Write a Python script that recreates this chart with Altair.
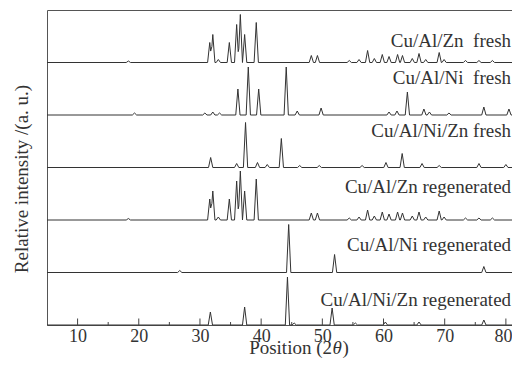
import altair as alt
import pandas as pd

# ---------------- data ----------------
names = [
    "Cu/Al/Zn\u00a0 fresh",
    "Cu/Al/Ni\u00a0 fresh",
    "Cu/Al/Ni/Zn fresh",
    "Cu/Al/Zn regenerated",
    "Cu/Al/Ni regenerated",
    "Cu/Al/Ni/Zn regenerated",
]
# baseline of each trace (intensity units, one panel = 52.5)
offsets = [262.5, 210.0, 157.5, 105.0, 52.5, 0.0]
# label centre height above the trace baseline
label_rise = [22, 37, 37, 33, 28, 25]

pos_znf = [18.3, 31.6, 32.1, 33.0, 34.8, 36.0, 36.6, 37.3, 39.2, 48.2, 49.2, 54.4,
           56.0, 57.4, 58.5, 59.8, 60.9, 62.3, 63.1, 64.7, 65.8, 66.9, 69.1, 69.9,
           73.4, 75.6, 77.8]
h_znf = [1.5, 20, 28, 3, 20, 38, 48, 28, 40, 7, 7, 2,
         3, 12, 4, 8, 6, 8, 7, 4, 9, 3, 10, 3,
         2, 2, 2]

pos_nif = [19.3, 30.8, 32.1, 33.2, 36.2, 37.9, 39.6, 44.1, 45.9, 49.8, 60.9, 62.2,
           63.9, 66.6, 67.5, 70.7, 76.4, 80.5]
h_nif = [2, 2, 3, 2, 26, 48, 26, 48, 4, 7, 3, 4,
         23, 6, 3, 2, 8, 6]

pos_niznf = [31.75, 36.0, 37.45, 39.4, 41.0, 43.3, 46.3, 49.5, 56.5, 60.4, 63.05,
             66.3, 69.1, 75.6, 80.0]
h_niznf = [10, 4, 45, 5, 3, 29, 2, 2, 2, 5, 14,
           4, 2, 4, 3]

pos_znr = pos_znf
h_znr = [1.5, 21, 29, 3, 21, 39, 49, 29, 41, 7, 7, 2,
         3, 10, 4, 8, 6, 8, 7, 4, 8, 3, 9, 3,
         2, 2, 2]

pos_nir = [26.7, 44.5, 52.0, 76.4]
h_nir = [2, 48, 18, 6]

pos_niznr = [31.7, 37.3, 44.3, 45.4, 51.6, 55.4, 60.3, 65.8, 76.4]
h_niznr = [13, 18, 48, 2, 17, 2, 3, 3, 5]

x_major = [10, 20, 30, 40, 50, 60, 70, 80]
x_minor = [15, 25, 35, 45, 55, 65, 75]

X_MIN, X_MAX = 5, 81
HALF_W = 0.35

peak_sets = [(pos_znf, h_znf), (pos_nif, h_nif), (pos_niznf, h_niznf),
             (pos_znr, h_znr), (pos_nir, h_nir), (pos_niznr, h_niznr)]

# ---------------- build the line table (sum of narrow triangular peaks) ----------------
rows = []
for i, (pos, hts) in enumerate(peak_sets):
    xs = {X_MIN, X_MAX}
    for p in pos:
        xs.update([p - HALF_W, p, p + HALF_W])
    for x in sorted(xs):
        y = 0.0
        for p, h in zip(pos, hts):
            d = abs(x - p)
            if d < HALF_W:
                y += h * (1 - d / HALF_W)
        rows.append({"pattern": names[i], "order": i, "two_theta": x,
                     "intensity": offsets[i] + y})
lines_df = pd.DataFrame(rows)

labels_df = pd.DataFrame({
    "name": names,
    "x": [80.85] * len(names),
    "y": [o + r for o, r in zip(offsets, label_rise)],
})

W, H = 465, 315
FONT = "Liberation Serif"
INK = "#333333"

xscale = alt.Scale(domain=[X_MIN, X_MAX], nice=False, zero=False)
yscale = alt.Scale(domain=[0, 315], nice=False, zero=False)

lines = alt.Chart(lines_df).mark_line(color=INK, strokeWidth=1, interpolate="linear").encode(
    x=alt.X("two_theta:Q", scale=xscale,
            axis=alt.Axis(values=x_major, title=None, ticks=False, domain=False, grid=False,
                          labelFont=FONT, labelFontSize=18, labelColor=INK, labelPadding=2,
                          labelOffset=alt.expr("datum.value == 80 ? -3 : 0"))),
    y=alt.Y("intensity:Q", scale=yscale, axis=None),
    detail="order:N",
    order="two_theta:Q",
)

major = alt.Chart(pd.DataFrame({"t": x_major})).mark_rule(color="#444444", strokeWidth=1).encode(
    x=alt.X("t:Q", scale=xscale), y=alt.value(H), y2=alt.value(H - 6.5))
minor = alt.Chart(pd.DataFrame({"t": x_minor})).mark_rule(color="#444444", strokeWidth=1).encode(
    x=alt.X("t:Q", scale=xscale), y=alt.value(H), y2=alt.value(H - 3))

labels = alt.Chart(labels_df).mark_text(
    align="right", baseline="middle", font=FONT, fontSize=19, color=INK
).encode(x=alt.X("x:Q", scale=xscale), y=alt.Y("y:Q", scale=yscale), text="name:N")

ytitle = alt.Chart(pd.DataFrame({"t": ["Relative intensity /(a. u.)"]})).mark_text(
    angle=270, align="center", baseline="middle", font=FONT, fontSize=19, color=INK
).encode(x=alt.value(-25), y=alt.value(169), text="t:N")

TY = 344
xt1 = alt.Chart(pd.DataFrame({"t": ["Position (2"]})).mark_text(
    align="right", baseline="alphabetic", font=FONT, fontSize=19, color=INK
).encode(x=alt.value(285), y=alt.value(TY), text="t:N")
xt2 = alt.Chart(pd.DataFrame({"t": ["\u03b8"]})).mark_text(
    align="left", baseline="alphabetic", font=FONT, fontSize=19, fontStyle="italic", color=INK
).encode(x=alt.value(285.5), y=alt.value(TY), text="t:N")
xt3 = alt.Chart(pd.DataFrame({"t": [")"]})).mark_text(
    align="left", baseline="alphabetic", font=FONT, fontSize=19, color=INK
).encode(x=alt.value(295.5), y=alt.value(TY), text="t:N")

chart = alt.layer(lines, major, minor, labels, ytitle, xt1, xt2, xt3).properties(
    width=W, height=H,
    autosize=alt.AutoSizeParams(type="none"),
    padding={"left": 39, "top": 2, "right": 0, "bottom": 33},
    background="white",
).configure_view(stroke="#555555", strokeWidth=1)

chart.save("out.html", embed_options={"renderer": "svg", "actions": False})
